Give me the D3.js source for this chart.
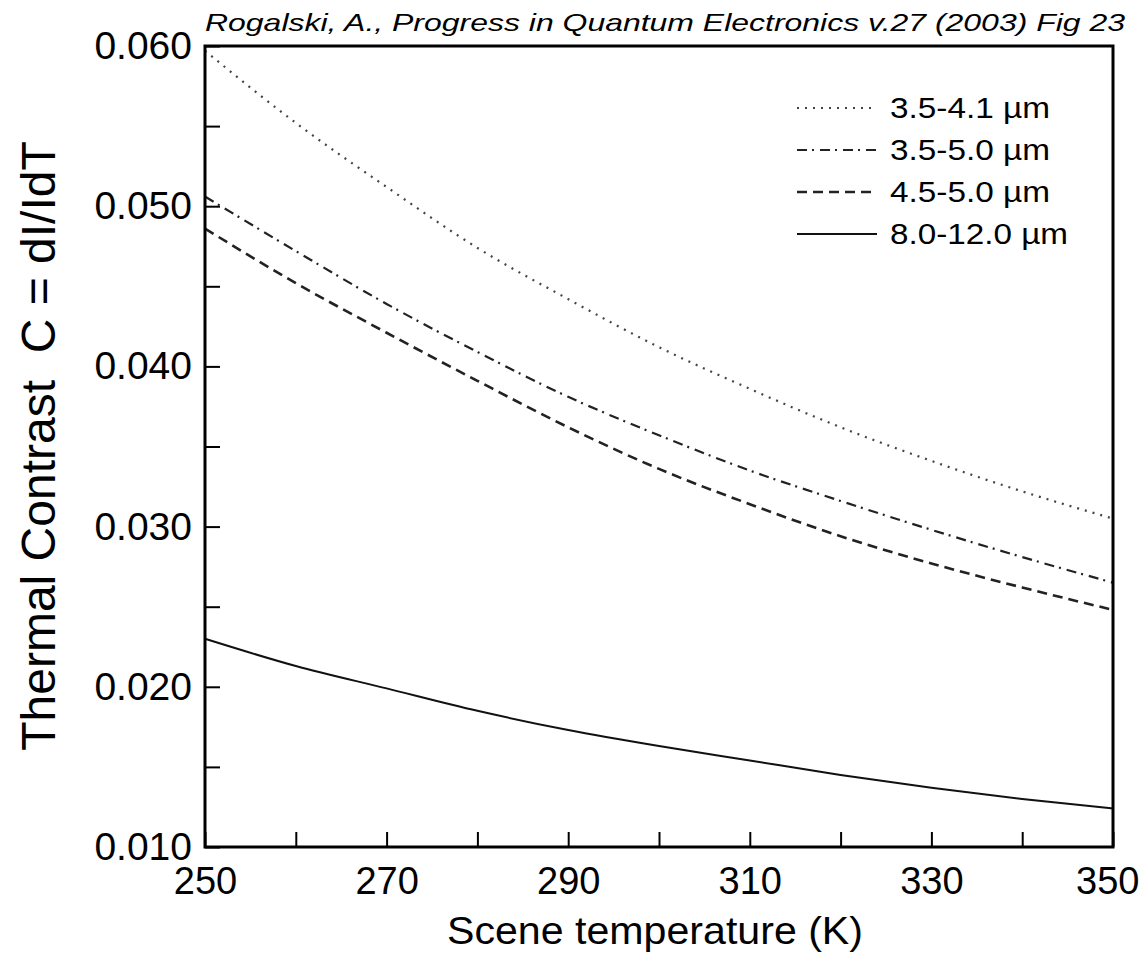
<!DOCTYPE html>
<html><head><meta charset="utf-8">
<script src="https://cdn.jsdelivr.net/npm/d3@7"></script>
<style>body{margin:0;background:#fff}svg{display:block}text{font-family:"Liberation Sans",Arial,sans-serif}</style>
</head><body>
<svg id="c" width="1142" height="955"></svg>
<script>
const temps = [250,260,270,280,290,300,310,320,330,340,350];
const s1 = [0.0597,0.0552,0.0512,0.0474,0.0442,0.0412,0.0386,0.0362,0.0341,0.0322,0.0305]; // 3.5-4.1
const s2 = [0.0506,0.0472,0.0439,0.0409,0.0381,0.0357,0.0335,0.0316,0.0298,0.0281,0.0265]; // 3.5-5.0
const s3 = [0.0486,0.0452,0.0421,0.0391,0.0362,0.0336,0.0314,0.0294,0.0277,0.0262,0.0248]; // 4.5-5.0
const s4 = [0.0230,0.0213,0.0199,0.0185,0.0173,0.0163,0.0154,0.0145,0.0137,0.0130,0.0124]; // 8.0-12.0
const seriesNames = ["3.5-4.1 \u00B5m","3.5-5.0 \u00B5m","4.5-5.0 \u00B5m","8.0-12.0 \u00B5m"];
const xTicks = [250,260,270,280,290,300,310,320,330,340,350];
const xLabels = [250,270,290,310,330,350];
const yTicks = [0.010,0.015,0.020,0.025,0.030,0.035,0.040,0.045,0.050,0.055,0.060];
const yLabels = [0.010,0.020,0.030,0.040,0.050,0.060];
const titleText = "Rogalski, A., Progress in Quantum Electronics v.27 (2003) Fig 23";
const xTitle = "Scene temperature (K)";
const yTitle = "Thermal Contrast\u00A0 C = dI/IdT";

const svg = d3.select("#c");
const L=205, R=1113, T=46, B=847;
const x = d3.scaleLinear().domain([250,350]).range([L,R]);
const y = d3.scaleLinear().domain([0.010,0.060]).range([B,T]);

const styles = [
  {dash:"2,6", w:2.2, c:"#444"},
  {dash:"10,5,2,6", w:2.2, c:"#222"},
  {dash:"10,6", w:2.6, c:"#222"},
  {dash:null, w:2, c:"#111"}
];
const allSeries = [s1,s2,s3,s4];

// axes
const yAxis = d3.axisLeft(y).tickValues(yTicks).tickSize(-15).tickPadding(13)
  .tickFormat(d => yLabels.some(v=>Math.abs(v-d)<1e-9) ? d3.format(".3f")(d) : "");
const gy = svg.append("g").attr("transform",`translate(${L},0)`).call(yAxis);
gy.select(".domain").remove();
gy.selectAll(".tick line").attr("stroke","#000").attr("stroke-width",2);
gy.selectAll(".tick text").attr("font-size",39).attr("fill","#000").attr("font-family","'Liberation Sans',Arial,sans-serif");

const xAxis = d3.axisBottom(x).tickValues(xTicks).tickSize(-15).tickPadding(20)
  .tickFormat(d => xLabels.includes(d) ? d : "");
const gx = svg.append("g").attr("transform",`translate(0,${B})`).call(xAxis);
gx.select(".domain").remove();
gx.selectAll(".tick line").attr("stroke","#000").attr("stroke-width",2);
gx.selectAll(".tick text").attr("font-size",38).attr("fill","#000").attr("font-family","'Liberation Sans',Arial,sans-serif");
gx.selectAll(".tick text").filter(d => d===350).attr("text-anchor","end").attr("x",26);

// curves
const line = d3.line().x((d,i)=>x(temps[i])).y(d=>y(d)).curve(d3.curveMonotoneX);
allSeries.forEach((s,k)=>{
  const p = svg.append("path").datum(s).attr("d",line).attr("fill","none")
    .attr("stroke",styles[k].c).attr("stroke-width",styles[k].w);
  if(styles[k].dash) p.attr("stroke-dasharray",styles[k].dash);
});

// frame
svg.append("rect").attr("x",L).attr("y",T).attr("width",R-L).attr("height",B-T)
  .attr("fill","none").attr("stroke","#000").attr("stroke-width",3);

// legend
const legY = [108,150,192,234];
seriesNames.forEach((n,k)=>{
  const l = svg.append("line").attr("x1",797).attr("x2",877).attr("y1",legY[k]).attr("y2",legY[k])
    .attr("stroke",styles[k].c).attr("stroke-width",styles[k].w);
  if(styles[k].dash) l.attr("stroke-dasharray",styles[k].dash);
  svg.append("text").attr("x",890).attr("y",legY[k]+10).attr("font-size",29)
    .attr("textLength", k===3?178:160).attr("lengthAdjust","spacingAndGlyphs").text(n);
});

// titles
svg.append("text").attr("x",205).attr("y",31).attr("font-size",24).attr("font-style","italic")
  .attr("textLength",920).attr("lengthAdjust","spacingAndGlyphs").text(titleText);
svg.append("text").attr("x",(447+863)/2).attr("y",944).attr("text-anchor","middle")
  .attr("font-size",39).attr("textLength",416).attr("lengthAdjust","spacingAndGlyphs").text(xTitle);
svg.append("text").attr("transform","translate(55,446) rotate(-90)").attr("text-anchor","middle")
  .attr("font-size",48).text(yTitle);
</script>
</body></html>
